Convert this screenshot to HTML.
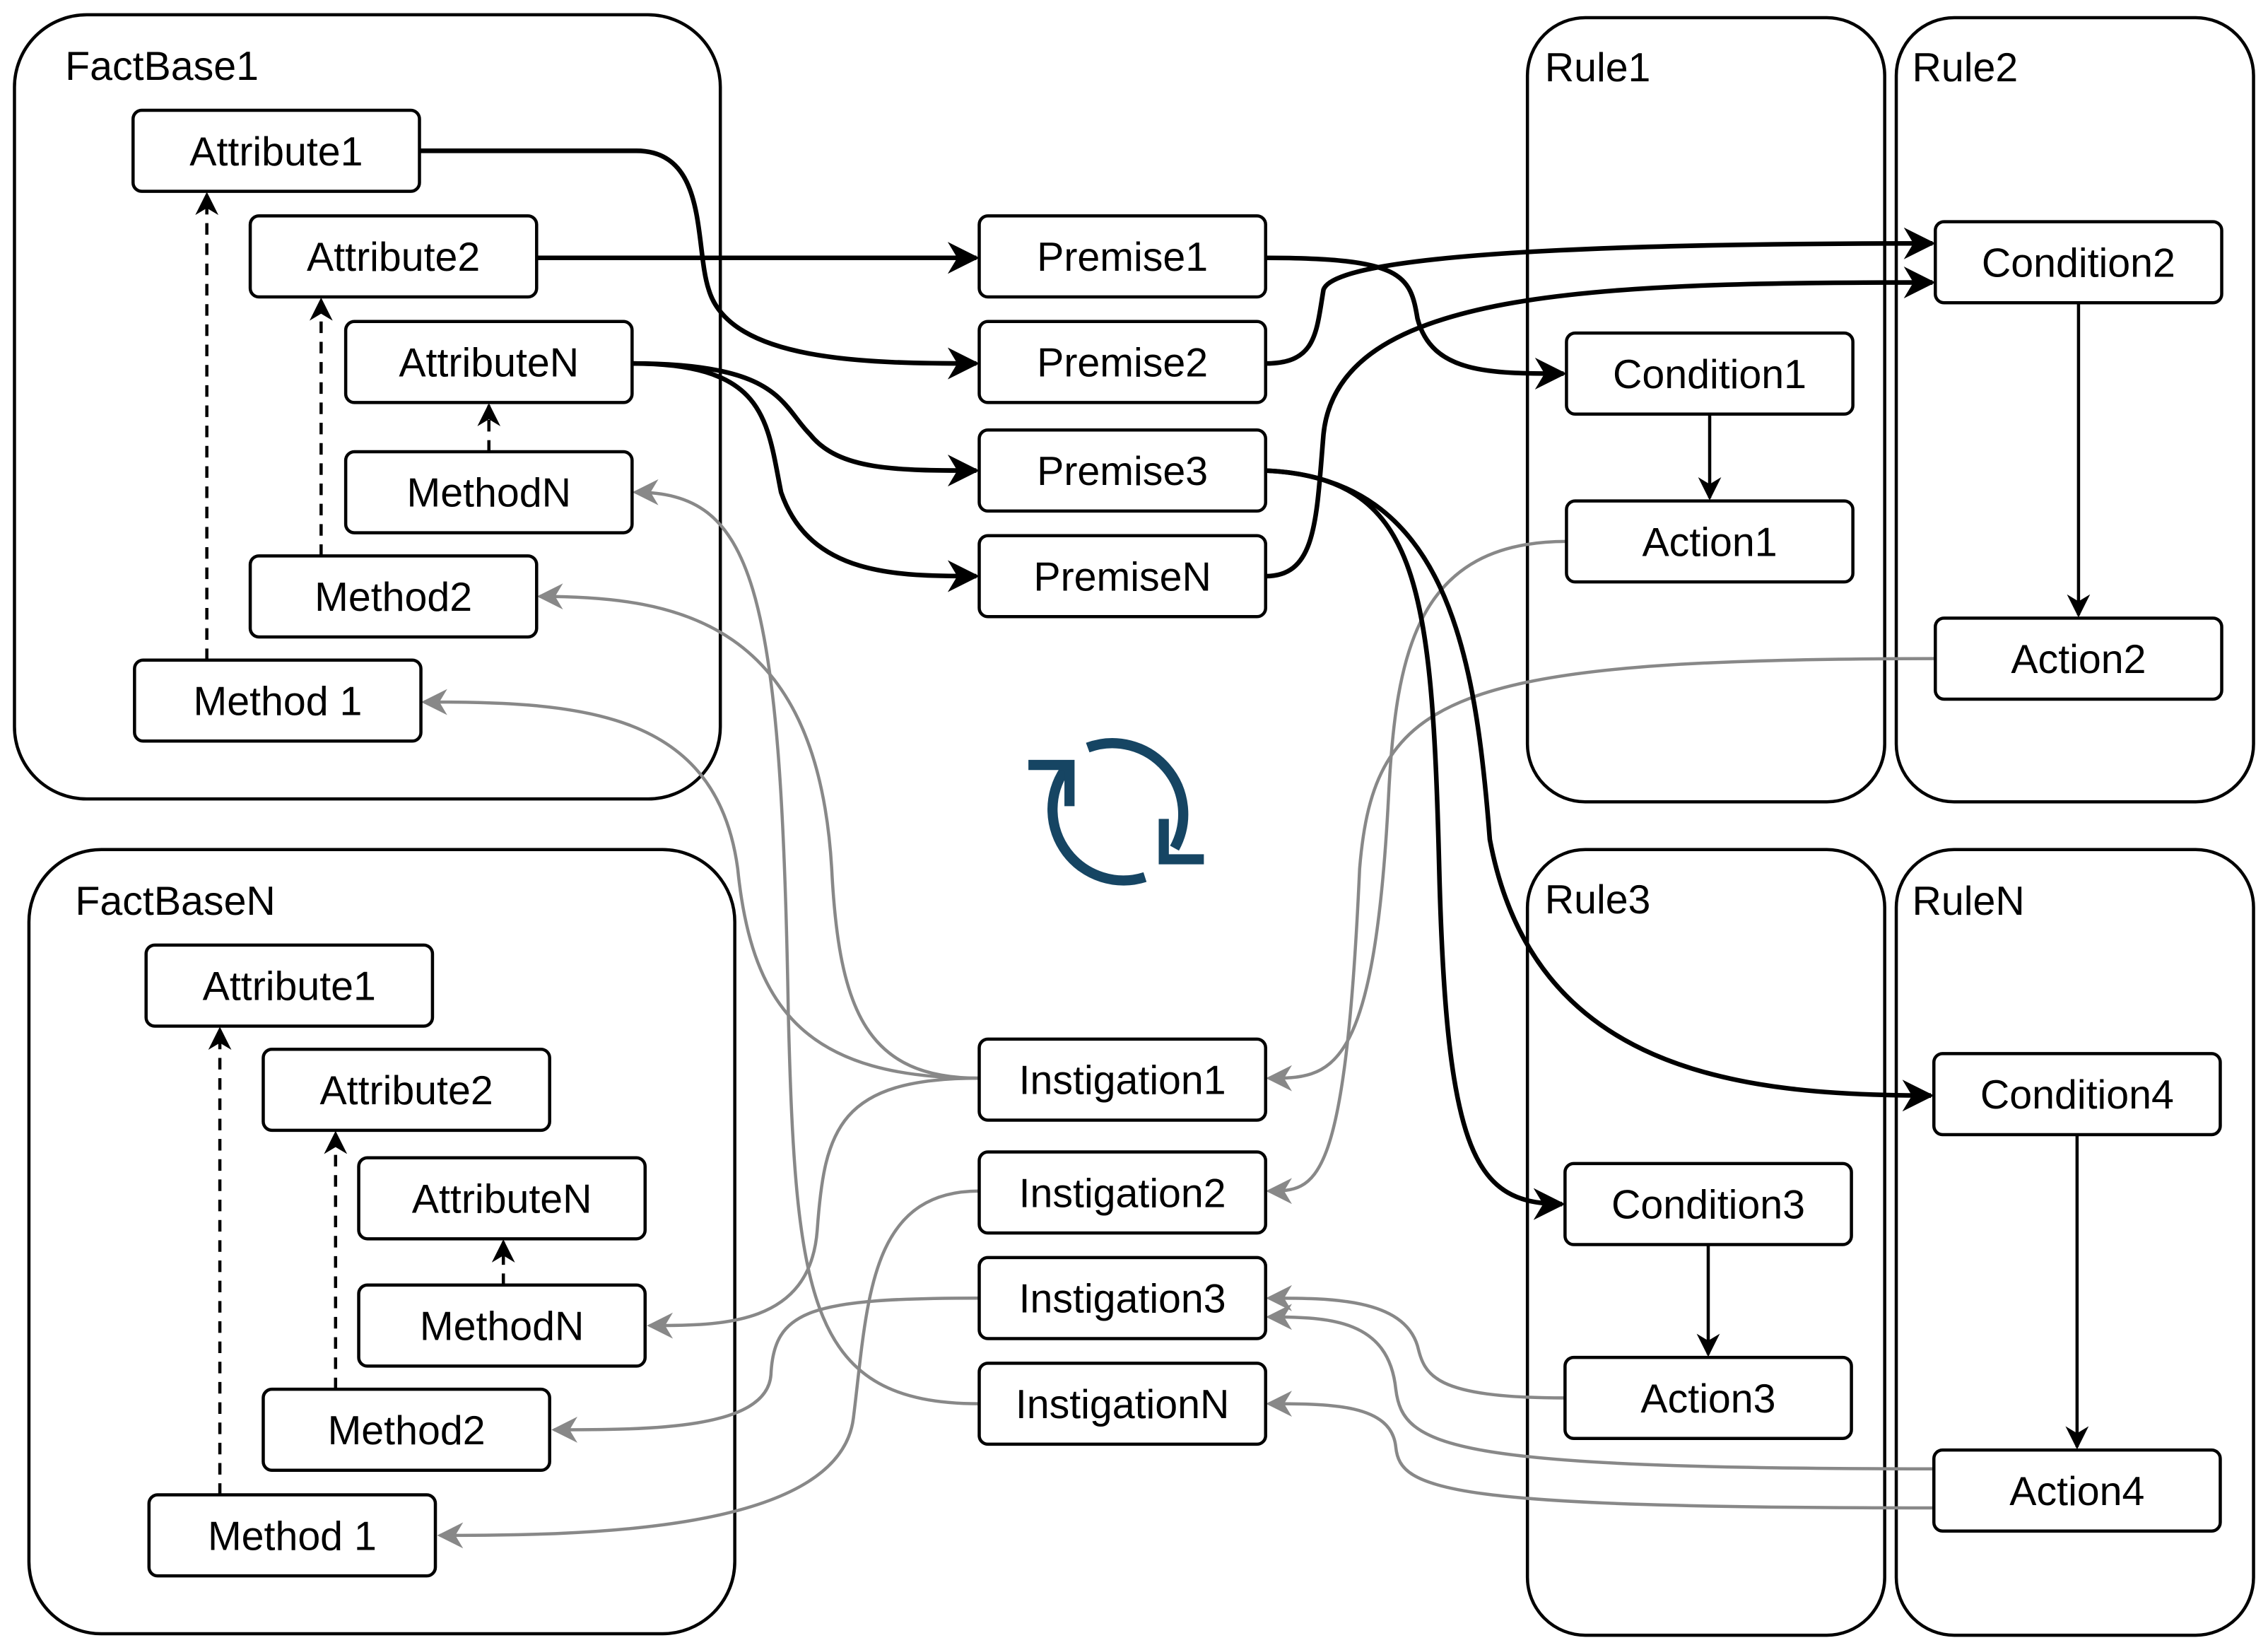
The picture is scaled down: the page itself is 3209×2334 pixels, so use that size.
<!DOCTYPE html>
<html><head><meta charset="utf-8"><style>
html,body{margin:0;padding:0;background:#fff;}
svg{display:block;}
text{font-family:"Liberation Sans",Arial,sans-serif;fill:#000;}
</style></head><body>
<svg width="3209" height="2334" viewBox="0 0 1568 1140" xmlns="http://www.w3.org/2000/svg">
<defs>
<marker id="abt" viewBox="0 0 10 10" refX="9" refY="5" markerWidth="22" markerHeight="22" markerUnits="userSpaceOnUse" orient="auto"><path d="M0,0 L10,5 L0,10 L3,5 z" fill="#000"/></marker>
<marker id="ag" viewBox="0 0 10 10" refX="9" refY="5" markerWidth="18" markerHeight="18" markerUnits="userSpaceOnUse" orient="auto"><path d="M0,0 L10,5 L0,10 L3,5 z" fill="#888"/></marker>
<marker id="ad" viewBox="0 0 10 10" refX="9" refY="5" markerWidth="16" markerHeight="16" markerUnits="userSpaceOnUse" orient="auto"><path d="M0,0 L10,5 L0,10 L3,5 z" fill="#000"/></marker>
</defs>
<g fill="none" stroke="#000" stroke-width="2.2">
<rect x="10" y="10" width="488" height="542" rx="50"/>
<rect x="20" y="587" width="488" height="542" rx="50"/>
<rect x="1056" y="12" width="247" height="542" rx="40"/>
<rect x="1311" y="12" width="247" height="542" rx="40"/>
<rect x="1056" y="587" width="247" height="543" rx="40"/>
<rect x="1311" y="587" width="247" height="543" rx="40"/>
</g>
<g font-size="28">
<text x="45" y="55">FactBase1</text>
<text x="52" y="632">FactBaseN</text>
<text x="1068" y="56">Rule1</text>
<text x="1322" y="56">Rule2</text>
<text x="1068" y="631">Rule3</text>
<text x="1322" y="632">RuleN</text>
</g>
<g fill="none" stroke="#888" stroke-width="2.2" marker-end="url(#ag)">
<path d="M677 745 C560 745 520 700 510 600 C495 490 400 485 293 485"/>
<path d="M677 745 C600 745 580 700 575 600 C565 430 470 412 373 412"/>
<path d="M677 970 C560 970 550 900 545 700 C540 400 520 340 439 340"/>
<path d="M677 745 C580 745 570 780 565 850 C560 916 500 916 449 916"/>
<path d="M677 823 C600 823 600 900 590 980 C580 1060 400 1061 304 1061"/>
<path d="M677 897 C560 897 535 905 533 950 C530 988 450 988 383 988"/>
<path d="M1083 374 C980 374 965 450 960 550 C950 745 920 745 877 745"/>
<path d="M1338 455 C1000 455 950 480 940 600 C930 823 910 823 877 823"/>
<path d="M1082 966 C990 966 985 950 980 930 C970 897 920 897 877 897"/>
<path d="M1337 1015 C1000 1015 970 1000 965 960 C960 912 920 910 877 910"/>
<path d="M1337 1042 C1000 1042 968 1030 965 1000 C962 970 920 970 877 970"/>
</g>
<g fill="none" stroke="#000" stroke-width="3.2" marker-end="url(#abt)">
<path d="M290 104 L440 104 C490 104 480 170 490 200 C505 250 600 251 675 251"/>
<path d="M371 178 L675 178"/>
<path d="M437 251 C540 251 540 280 560 300 C580 325 620 325 675 325"/>
<path d="M437 251 C530 251 530 290 540 340 C560 398 620 398 675 398"/>
<path d="M875 178 C970 178 975 190 980 220 C990 258 1030 258 1081 258"/>
<path d="M875 251 C910 251 910 230 915 200 C925 170 1200 168 1336 168"/>
<path d="M875 398 C910 398 910 360 915 300 C925 200 1100 195 1336 195"/>
<path d="M875 325 C980 330 990 400 995 600 C1000 800 1020 832 1080 832"/>
<path d="M875 325 C1000 330 1020 450 1030 580 C1060 740 1200 757 1335 757"/>
</g>
<g fill="none" stroke="#000" stroke-width="2.2" marker-end="url(#ad)">
<path d="M1182 286 L1182 344"/>
<path d="M1437 210 L1437 425"/>
<path d="M1181 860 L1181 936"/>
<path d="M1436 784 L1436 1000"/>
</g>
<g fill="none" stroke="#000" stroke-width="2.2" stroke-dasharray="8,6" marker-end="url(#ad)">
<path d="M143 456 L143 134"/>
<path d="M222 384 L222 207"/>
<path d="M338 312 L338 280"/>
<path d="M152 1033 L152 711"/>
<path d="M232 960 L232 783"/>
<path d="M348 888 L348 858"/>
</g>
<g fill="#fff" stroke="#000" stroke-width="2.2">
<rect x="92" y="76" width="198" height="56" rx="6"/>
<rect x="173" y="149" width="198" height="56" rx="6"/>
<rect x="239" y="222" width="198" height="56" rx="6"/>
<rect x="239" y="312" width="198" height="56" rx="6"/>
<rect x="173" y="384" width="198" height="56" rx="6"/>
<rect x="93" y="456" width="198" height="56" rx="6"/>
<rect x="101" y="653" width="198" height="56" rx="6"/>
<rect x="182" y="725" width="198" height="56" rx="6"/>
<rect x="248" y="800" width="198" height="56" rx="6"/>
<rect x="248" y="888" width="198" height="56" rx="6"/>
<rect x="182" y="960" width="198" height="56" rx="6"/>
<rect x="103" y="1033" width="198" height="56" rx="6"/>
<rect x="677" y="149" width="198" height="56" rx="6"/>
<rect x="677" y="222" width="198" height="56" rx="6"/>
<rect x="677" y="297" width="198" height="56" rx="6"/>
<rect x="677" y="370" width="198" height="56" rx="6"/>
<rect x="677" y="718" width="198" height="56" rx="6"/>
<rect x="677" y="796" width="198" height="56" rx="6"/>
<rect x="677" y="869" width="198" height="56" rx="6"/>
<rect x="677" y="942" width="198" height="56" rx="6"/>
<rect x="1083" y="230" width="198" height="56" rx="6"/>
<rect x="1083" y="346" width="198" height="56" rx="6"/>
<rect x="1338" y="153" width="198" height="56" rx="6"/>
<rect x="1338" y="427" width="198" height="56" rx="6"/>
<rect x="1082" y="804" width="198" height="56" rx="6"/>
<rect x="1082" y="938" width="198" height="56" rx="6"/>
<rect x="1337" y="728" width="198" height="56" rx="6"/>
<rect x="1337" y="1002" width="198" height="56" rx="6"/>
</g>
<g font-size="28" text-anchor="middle">
<text x="191" y="114">Attribute1</text>
<text x="272" y="187">Attribute2</text>
<text x="338" y="260">AttributeN</text>
<text x="338" y="350">MethodN</text>
<text x="272" y="422">Method2</text>
<text x="192" y="494">Method 1</text>
<text x="200" y="691">Attribute1</text>
<text x="281" y="763">Attribute2</text>
<text x="347" y="838">AttributeN</text>
<text x="347" y="926">MethodN</text>
<text x="281" y="998">Method2</text>
<text x="202" y="1071">Method 1</text>
<text x="776" y="187">Premise1</text>
<text x="776" y="260">Premise2</text>
<text x="776" y="335">Premise3</text>
<text x="776" y="408">PremiseN</text>
<text x="776" y="756">Instigation1</text>
<text x="776" y="834">Instigation2</text>
<text x="776" y="907">Instigation3</text>
<text x="776" y="980">InstigationN</text>
<text x="1182" y="268">Condition1</text>
<text x="1182" y="384">Action1</text>
<text x="1437" y="191">Condition2</text>
<text x="1437" y="465">Action2</text>
<text x="1181" y="842">Condition3</text>
<text x="1181" y="976">Action3</text>
<text x="1436" y="766">Condition4</text>
<text x="1436" y="1040">Action4</text>
</g>
<g fill="none" stroke="#164563" stroke-width="7">
<path d="M752 516.5 A49 49 0 0 1 812 586"/>
<path d="M791.6 606 A49 49 0 0 1 736 532"/>
<path d="M711 528.5 L739.4 528.5 L739.4 557" stroke-linejoin="miter"/>
<path d="M804.6 565.8 L804.6 593.7 L832.3 593.7" stroke-linejoin="miter"/>
</g>
</svg>
</body></html>
